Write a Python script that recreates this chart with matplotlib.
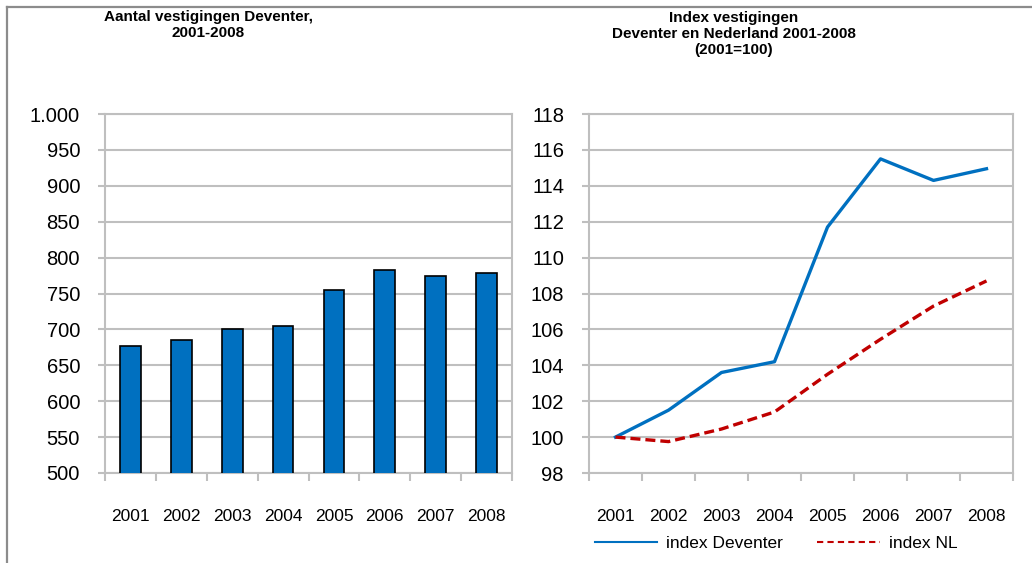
import matplotlib.pyplot as plt
from matplotlib.lines import Line2D
from matplotlib.ticker import FuncFormatter, FixedLocator

plt.rcParams['font.family'] = ['Liberation Sans', 'DejaVu Sans']

years = ['2001', '2002', '2003', '2004', '2005', '2006', '2007', '2008']
vestigingen = [677, 685, 700, 705, 755, 783, 775, 778]
index_deventer = [100.0, 101.5, 103.6, 104.2, 111.7, 115.5, 114.3, 114.95]
index_nl = [100.0, 99.75, 100.45, 101.4, 103.5, 105.45, 107.3, 108.7]

W, H = 1032, 563
fig = plt.figure(figsize=(W / 100, H / 100), dpi=100)

grid_c = '#BFBFBF'
blue = '#0070C0'
red = '#C00000'


def style_axes(ax):
    x = range(len(years))
    ax.set_xlim(-0.5, len(years) - 0.5)
    ax.set_xticks(list(x))
    ax.set_xticklabels(years, fontsize=12.5)
    ax.xaxis.set_minor_locator(FixedLocator([i - 0.5 for i in range(len(years) + 1)]))
    ax.tick_params(axis='x', which='major', length=0, pad=26)
    ax.tick_params(axis='x', which='minor', length=6, width=1.5, color=grid_c)
    ax.tick_params(axis='y', length=5, width=1.5, color=grid_c, labelsize=14.5, pad=13)
    ax.grid(axis='y', color=grid_c, linewidth=1.5)
    ax.set_axisbelow(True)
    for s in ax.spines.values():
        s.set_color(grid_c)
        s.set_linewidth(1.5)


# left: bars
ax1 = fig.add_axes([105 / W, 1 - 473 / H, 407 / W, 359 / H])
ax1.bar(range(len(years)), vestigingen, width=0.41, color=blue,
        edgecolor='black', linewidth=1.2, zorder=3)
ax1.set_ylim(500, 1000)
ax1.set_yticks(range(500, 1001, 50))
ax1.yaxis.set_major_formatter(FuncFormatter(lambda v, p: f'{int(v):,}'.replace(',', '.')))
style_axes(ax1)

# right: lines
ax2 = fig.add_axes([589 / W, 1 - 473 / H, 424 / W, 359 / H])
ax2.plot(range(len(years)), index_deventer, color=blue, linewidth=2.4,
         label='index Deventer', zorder=3)
ax2.plot(range(len(years)), index_nl, color=red, linewidth=2.4,
         linestyle=(0, (3, 1.5)), label='index NL', zorder=3)
ax2.set_ylim(98, 118)
ax2.set_yticks(range(98, 119, 2))
style_axes(ax2)

fig.legend(handles=[Line2D([], [], color=blue, linewidth=1.5),
                    Line2D([], [], color=red, linewidth=1.5, linestyle=(0, (3, 2)))],
           labels=['index Deventer', 'index NL'],
           loc='center', bbox_to_anchor=(776 / W, 1 - 543 / H), ncol=2,
           frameon=False, fontsize=12.5, handlelength=3.6, handletextpad=0.5,
           columnspacing=2.0)

# titles
fig.text(208 / W, 1 - 25 / H, 'Aantal vestigingen Deventer,\n2001-2008',
         ha='center', va='center', fontsize=11, fontweight='bold', linespacing=1.2)
fig.text(734 / W, 1 - 34 / H, 'Index vestigingen\nDeventer en Nederland 2001-2008\n(2001=100)',
         ha='center', va='center', fontsize=11, fontweight='bold', linespacing=1.2)

# outer frame (left and top edges)
frame_c = '#8C8C8C'
fig.add_artist(Line2D([6.5 / W, 6.5 / W], [0, 1 - 6.5 / H], color=frame_c, linewidth=1.6))
fig.add_artist(Line2D([6.5 / W, 1], [1 - 6.5 / H, 1 - 6.5 / H], color=frame_c, linewidth=1.6))

fig.savefig('out.png', dpi=100)
